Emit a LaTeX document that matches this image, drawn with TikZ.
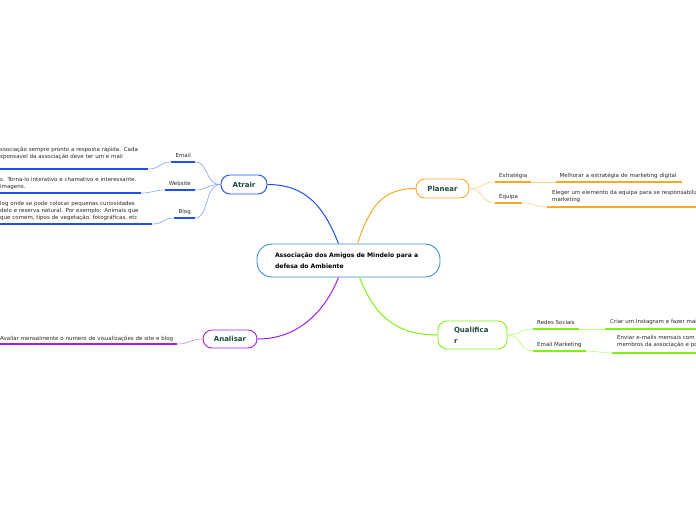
\documentclass[tikz,border=0pt]{standalone}
\usepackage{fontspec}
\setmainfont{DejaVu Sans}
\usetikzlibrary{positioning}
\definecolor{centrec}{RGB}{55,142,212}
\definecolor{atrairc}{RGB}{30,80,235}
\definecolor{planearc}{RGB}{247,168,40}
\definecolor{qualific}{RGB}{130,240,20}
\definecolor{analisarc}{RGB}{165,30,240}
\definecolor{titlec}{RGB}{25,75,60}
\definecolor{textc}{RGB}{40,40,40}
\tikzset{
  topic/.style={draw, rounded corners=9pt, line width=0.9pt, fill=white, text=titlec,
    font=\fontsize{7}{11}\selectfont\bfseries, minimum height=19pt, inner sep=0pt},
  sub/.style={font=\fontsize{5.5}{7}\selectfont, text=textc, inner xsep=4pt, inner ysep=2pt,
    text depth=2pt, anchor=south west},
  leafl/.style={font=\fontsize{5.5}{7}\selectfont, text=textc, inner xsep=0pt, inner ysep=2pt,
    execute at begin node={\hyphenpenalty=10000\relax}, execute at end node={\strut},
    align=left, anchor=south west},
  leafr/.style={leafl, inner xsep=5pt},
  uline/.style={line width=1.3pt},
  twig/.style={line width=0.6pt},
  branch/.style={line width=1pt}
}
\begin{document}
\begin{tikzpicture}[x=1pt,y=-1pt]
\useasboundingbox (0,0) rectangle (696,520);
\clip (0,0) rectangle (696,520);

\node[topic, draw=centrec, text=black, minimum width=183pt, minimum height=33pt, rounded corners=15pt,
  text width=147pt, align=left, font=\fontsize{6.1}{11}\selectfont\bfseries] (centre) at (348.5,260.5)
  {Associação dos Amigos de Mindelo para a\\defesa do Ambiente};

\node[topic, draw=atrairc, minimum width=46pt] (atrair) at (244,184.5) {Atrair};
\node[topic, draw=planearc, minimum width=53pt] (planear) at (442.5,188.5) {Planear};
\node[topic, draw=qualific, minimum width=69pt, minimum height=28pt, text width=37pt, align=left]
  (qualificar) at (472.5,335) {Qualifica\\r};
\node[topic, draw=analisarc, minimum width=54pt, minimum height=18pt] (analisar) at (230,339) {Analisar};

\draw[branch, atrairc] ([xshift=-10pt]centre.north) .. controls +(-14,-35) and +(40,0) .. (atrair.east);
\draw[branch, planearc] ([xshift=9pt]centre.north) .. controls +(12,-35) and +(-35,0) .. (planear.west);
\draw[branch, analisarc] ([xshift=-10pt]centre.south) .. controls +(-14,35) and +(40,0) .. (analisar.east);
\draw[branch, qualific] ([xshift=11pt]centre.south) .. controls +(14,35) and +(-45,0) .. (qualificar.west);

\node[sub, anchor=south east] (email) at (195,162) {Email};
\node[sub, anchor=south east] (website) at (195,190) {Website};
\node[sub, anchor=south east] (blog) at (195,218) {Blog};
\node[sub] (estrategia) at (495,182) {Estratégia};
\node[sub] (equipa) at (495,203) {Equipa};
\node[sub] (redes) at (533,329) {Redes Sociais};
\node[sub] (emailmkt) at (533,351) {Email Marketing};

\node[leafl, text width=148pt, inner ysep=8pt] (emailtxt) at (0,169)
  {ssociação sempre pronto a resposta rápida. Cada\\sponsavel da associação deve ter um e mail};
\node[leafl, text width=141pt] (websitetxt) at (0,193)
  {s. Torna-lo interativo e chamativo e interessante.\\imagens.};
\node[leafl, text width=152pt] (blogtxt) at (0,224)
  {log onde se pode colocar pequenas curiosidades\\delo e reserva natural. Por exemplo: Animais que\\que comem, tipos de vegetação, fotográficas, etc};
\node[leafl, text width=177pt, inner ysep=1pt] (avaliartxt) at (0,344)
  {Avaliar mensalmente o numero de visualizações de site e blog};
\node[leafr, text width=119pt, inner xsep=3.5pt] (melhorartxt) at (556,182)
  {Melhorar a estratégia de marketing digital};
\node[leafr, text width=200pt, inner ysep=3pt] (elegertxt) at (547,207)
  {Eleger um elemento da equipa para se responsabiliz\\marketing};
\node[leafr, text width=200pt, inner ysep=3pt] (criartxt) at (605,329) {Criar um Instagram e fazer mai};
\node[leafr, text width=200pt, inner ysep=4pt] (enviartxt) at (612,353)
  {Enviar e-mails mensais com\\membros da associação e po};

\foreach \n/\c in {email/atrairc, website/atrairc, blog/atrairc, emailtxt/atrairc, websitetxt/atrairc,
  blogtxt/atrairc, estrategia/planearc, equipa/planearc, melhorartxt/planearc, elegertxt/planearc,
  redes/qualific, emailmkt/qualific, criartxt/qualific, enviartxt/qualific, avaliartxt/analisarc}
  \draw[uline, \c] (\n.south west) -- (\n.south east);

\foreach \n in {email,website,blog}
  \draw[twig, atrairc!55] (atrair.west) .. controls +(-16,0) and +(14,0) .. (\n.south east);
\foreach \n in {estrategia,equipa}
  \draw[twig, planearc!55] (planear.east) .. controls +(14,0) and +(-14,0) .. (\n.south west);
\foreach \n in {redes,emailmkt}
  \draw[twig, qualific!55] (qualificar.east) .. controls +(14,0) and +(-14,0) .. (\n.south west);
\draw[twig, analisarc!55] (analisar.west) .. controls +(-12,0) and +(12,0) .. (avaliartxt.south east);

\foreach \a/\b in {email/emailtxt, website/websitetxt, blog/blogtxt}
  \draw[twig, atrairc!55] (\a.south west) .. controls +(-12,0) and +(12,0) .. (\b.south east);
\foreach \a/\b in {estrategia/melhorartxt, equipa/elegertxt}
  \draw[twig, planearc!55] (\a.south east) .. controls +(12,0) and +(-12,0) .. (\b.south west);
\foreach \a/\b in {redes/criartxt, emailmkt/enviartxt}
  \draw[twig, qualific!55] (\a.south east) .. controls +(12,0) and +(-12,0) .. (\b.south west);
\end{tikzpicture}
\end{document}
